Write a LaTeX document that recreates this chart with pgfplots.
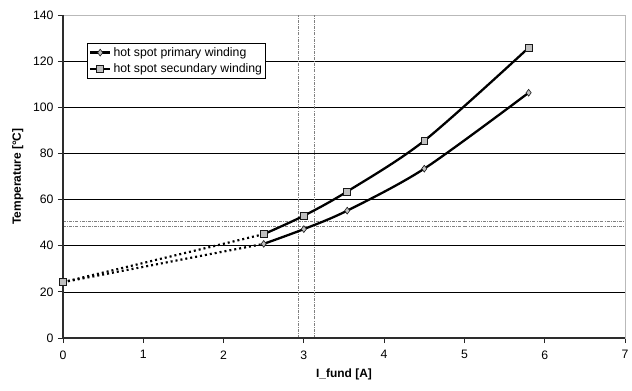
\documentclass[border=0pt]{standalone}
\usepackage{fontspec}
\setmainfont{Liberation Sans}
\usepackage{pgfplots}
\pgfplotsset{compat=1.18}
\definecolor{mk}{RGB}{192,192,192}
\begin{document}
\begin{tikzpicture}
\begin{axis}[
  scale only axis,
  width=562bp, height=323bp,
  xmin=0, xmax=7, ymin=0, ymax=140,
  xtick={0,1,...,7}, ytick={0,20,...,140},
  /pgf/number format/assume math mode=true,
  tick label style={font=\fontsize{12.3}{14}\selectfont},
  xlabel={\textbf{I\_fund [A]}},
  ylabel={\textbf{Temperature [°C]}},
  label style={font=\fontsize{12}{14}\selectfont},
  xlabel style={at={(axis description cs:0.5,0)}, anchor=north, yshift=-27bp},
  ylabel style={at={(axis description cs:0,0.5)}, anchor=south, xshift=0bp, yshift=36bp},
  xtick pos=bottom, ytick pos=left,
  tick align=outside,
  major tick length=5bp,
  tick style={gray!30!black, line width=0.8pt},
  xticklabel style={yshift=-4bp},
  yticklabel style={xshift=-1bp},
  axis line style={gray!55, line width=0.9pt},
  ymajorgrids,
  major grid style={black, line width=0.7pt},
  legend style={at={(axis description cs:0.0427,0.913)}, anchor=north west,
    draw=black, line width=0.7pt, fill=white,
    font=\fontsize{12.3}{14}\selectfont,
    inner xsep=1.5pt, inner ysep=2pt, row sep=2pt,
    cells={anchor=west},
    /tikz/every even column/.append style={column sep=1pt}},
  legend image code/.code={
    \draw[#1, mark=none] (0cm,0cm) -- (0.72cm,0cm);
    \draw[#1, only marks] plot coordinates {(0.36cm,0cm)};
  },
  clip=false,
]
% reference dash-dot lines
\addplot[gray, line width=0.55pt, dash pattern=on 3pt off 1.2pt on 0.8pt off 1.2pt, forget plot] coordinates {(2.93,0) (2.93,140)};
\addplot[gray, line width=0.55pt, dash pattern=on 3pt off 1.2pt on 0.8pt off 1.2pt, forget plot] coordinates {(3.13,0) (3.13,140)};
\addplot[gray, line width=0.55pt, dash pattern=on 3pt off 1.2pt on 0.8pt off 1.2pt, forget plot] coordinates {(0,50.8) (7,50.8)};
\addplot[gray, line width=0.55pt, dash pattern=on 3pt off 1.2pt on 0.8pt off 1.2pt, forget plot] coordinates {(0,48.5) (7,48.5)};
% dotted extrapolations
\addplot[black, line width=2.2pt, dash pattern=on 2pt off 3pt, forget plot] coordinates {(0,24.2) (2.5,40.8)};
\addplot[black, line width=2.2pt, dash pattern=on 2pt off 3pt, forget plot] coordinates {(0,24.2) (2.5,45.0)};
% main series
\addplot[black, line width=2.3pt, smooth, tension=0.5, mark=diamond*, mark size=3.4bp,
  mark options={fill=mk, draw=gray!20!black, line width=0.6pt, solid}]
  coordinates {(2.5,40.8) (3.0,47.2) (3.54,55.2) (4.5,73.4) (5.8,106.3)};
\addlegendentry{hot spot primary winding}
\addplot[black, line width=2.3pt, smooth, tension=0.5, mark=square*, mark size=3.4bp,
  mark options={fill=mk, draw=gray!20!black, line width=0.7pt, solid}]
  coordinates {(2.5,45.0) (3.0,53.0) (3.54,63.5) (4.5,85.5) (5.8,125.8)};
\addlegendentry{hot spot secundary winding}
\addplot[only marks, mark=square*, mark size=3.4bp,
  mark options={fill=mk, draw=gray!20!black, line width=0.7pt}, forget plot]
  coordinates {(0,24.2)};
\draw[gray!35!black, line width=1.3pt] (rel axis cs:0,1) -- (rel axis cs:0,0) -- (rel axis cs:1,0);
\end{axis}
\path ([xshift=-63bp,yshift=-53bp]current axis.south west) rectangle ([xshift=7bp,yshift=15bp]current axis.north east);
\end{tikzpicture}
\end{document}
